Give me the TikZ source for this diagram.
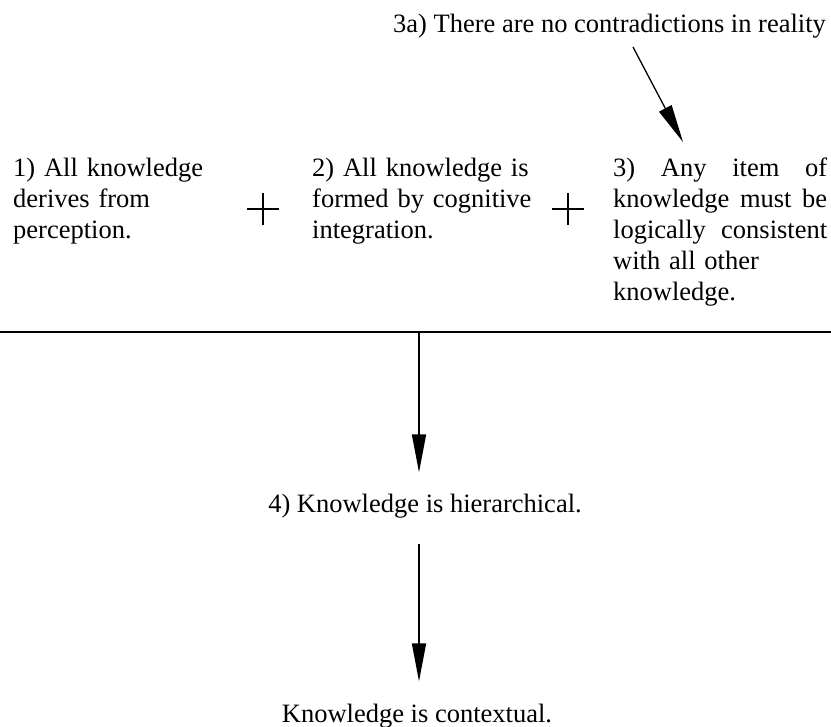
\documentclass[tikz,border=0pt]{standalone}
\usepackage{fontspec}
\setmainfont{Liberation Serif}
\usetikzlibrary{arrows.meta}

\tikzset{
    txt/.style={inner sep=0pt, font=\fontsize{26.5}{31}\selectfont, align=left},
    block/.style={txt, anchor=base west, text width=214pt},
    arr/.style={line width=1.6pt, -{Triangle[length=38pt,width=14pt]}},
}

\begin{document}
\begin{tikzpicture}[x=1pt,y=-1pt]
            \useasboundingbox (0,0) rectangle (831,727);
            % the four statements
            \node[txt, anchor=base west] (reality) at (393,33) {3a) There are no contradictions in reality};
            \node[block] (perception) at (13,177) {1) All knowledge\\derives from\\perception.};
            \node[block, text width=230pt] (integration) at (312,177) {2) All knowledge is\\formed by cognitive\\integration.};
            \node[block] (consistent) at (613,177) {\makebox[214pt][l]{3)\hfill Any\hfill item\hfill of}\\\makebox[214pt][l]{knowledge\hfill must\hfill be}\\\makebox[214pt][l]{logically\hfill consistent}\\with all other\\knowledge.};
            \node[txt, anchor=base] (hierarchical) at (425,513) {4) Knowledge is hierarchical.};
            \node[txt, anchor=base] (contextual) at (417,722) {Knowledge is contextual.};
            % plus signs
            \draw[line width=1.8pt] (247,209) -- (279,209) (263,193) -- (263,225);
            \draw[line width=1.8pt] (552,209) -- (584,209) (568,193) -- (568,225);
            % rule and arrows
            \coordinate (ruleL) at (0,332);
            \coordinate (ruleR) at (831,332);
            \coordinate (split) at (419,332);
            \coordinate (from3a) at (633,47);
            \coordinate (to3) at (683,142);
            \draw[line width=2.6pt] (ruleL) -- (ruleR);
            \draw[arr, line width=1.3pt] (from3a) -- (to3);
            \draw[arr] (split) -- ([xshift=-6pt, yshift=22pt]hierarchical.north);
            \draw[arr] ([xshift=-6pt, yshift=-25pt]hierarchical.south) -- ([xshift=2pt, yshift=22pt]contextual.north);
\end{tikzpicture}
\end{document}
